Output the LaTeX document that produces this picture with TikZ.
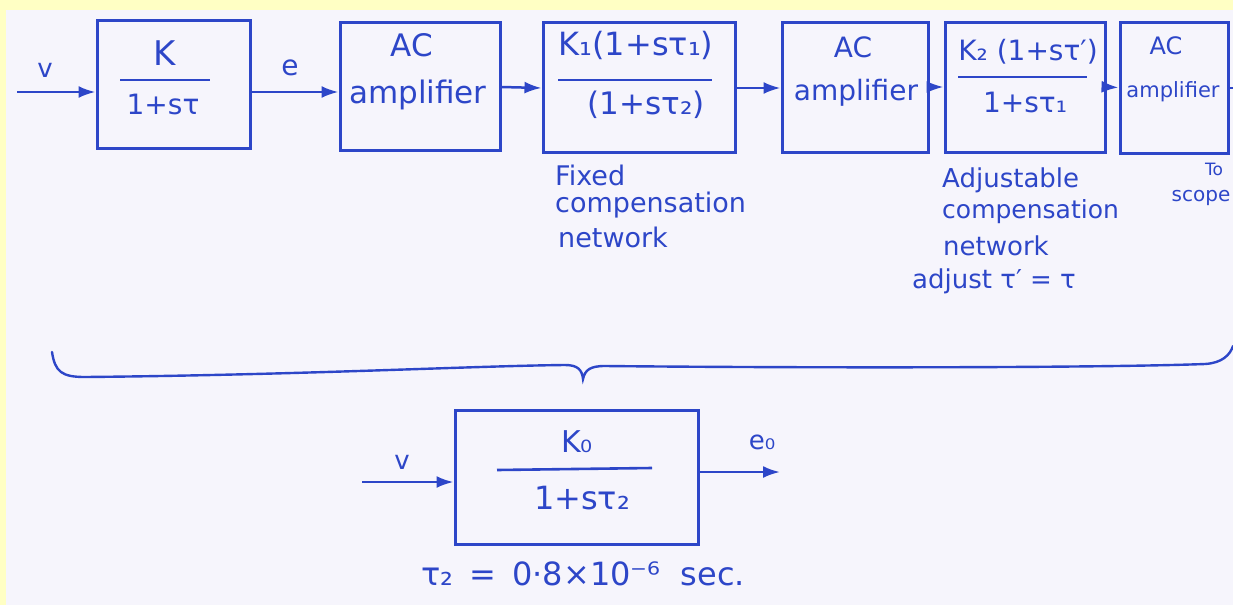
\documentclass[tikz,border=0pt]{standalone}
\usepackage{fontspec}
\setmainfont{DejaVu Sans}
\usetikzlibrary{arrows.meta}
\definecolor{ink}{RGB}{45,70,200}
\definecolor{paper}{RGB}{246,245,252}
\definecolor{edgey}{RGB}{255,255,196}
\newcommand{\fs}[1]{\fontsize{#1}{#1}\selectfont}
\begin{document}
\begin{tikzpicture}[x=1pt,y=-1pt,
  blk/.style={draw=ink,line width=3pt,rectangle,inner sep=0pt},
  lbl/.style={text=ink,inner sep=0pt},
  note/.style={text=ink,inner sep=0pt,anchor=west,font=\fs{26}},
  rulel/.style={draw=ink,line width=2.6pt},
  arr/.style={draw=ink,line width=2.5pt,-{Latex[length=17pt,width=12pt]}}]
\fill[edgey] (0,0) rectangle (1233,605);
\fill[paper] (6,10) rectangle (1233,605);
\useasboundingbox (0,0) rectangle (1233,605);

% top row boxes
\node[blk,minimum width=153pt,minimum height=128pt] (b1) at (173.5,84) {};
\node[blk,minimum width=160pt,minimum height=128pt] (b2) at (420,86) {};
\node[blk,minimum width=192pt,minimum height=130pt] (b3) at (639,87) {};
\node[blk,minimum width=146pt,minimum height=130pt] (b4) at (855,87) {};
\node[blk,minimum width=160pt,minimum height=130pt] (b5) at (1025,87) {};
\node[blk,minimum width=108pt,minimum height=131pt] (b6) at (1174,87.5) {};

% box 1
\node[lbl,font=\fs{34}] (k1) at (165,53) {K};
\coordinate (r1a) at (120,80); \coordinate (r1b) at (210,80);
\draw[rulel] (r1a) -- (r1b);
\node[lbl,font=\fs{28}] (d1) at (163,104) {1+sτ};
% box 2
\node[lbl,font=\fs{31}] (ac2) at (412,45) {AC};
\node[lbl,font=\fs{31}] (am2) at (418,95) {amplifier};
% box 3
\node[lbl,font=\fs{32}] (n3) at (636,45) {K₁(1+sτ₁)};
\coordinate (r3a) at (558,80); \coordinate (r3b) at (712,80);
\draw[rulel] (r3a) -- (r3b);
\node[lbl,font=\fs{31}] (d3) at (646,105) {(1+sτ₂)};
% box 4
\node[lbl,font=\fs{28}] (ac4) at (853,47) {AC};
\node[lbl,font=\fs{28}] (am4) at (856,93) {amplifier};
% box 5
\node[lbl,font=\fs{28}] (n5) at (1028,52) {K₂ (1+sτ′)};
\coordinate (r5a) at (958,77); \coordinate (r5b) at (1087,77);
\draw[rulel] (r5a) -- (r5b);
\node[lbl,font=\fs{28}] (d5) at (1025,102) {1+sτ₁};
% box 6
\node[lbl,font=\fs{24}] (ac6) at (1166,46) {AC};
\node[lbl,font=\fs{21}] (am6) at (1173,92) {amplifier};

% signals
\coordinate (vin) at (17,92);
\draw[arr] (vin) -- (vin -| b1.west);
\node[lbl,font=\fs{26}] (v1) at (45,70) {v};
\draw[arr] ([yshift=-8pt]b1.east) -- ([yshift=-6pt]b2.west);
\node[lbl,font=\fs{28}] (e1) at (290,68) {e};
\draw[arr] ([yshift=-1pt]b2.east) -- ([yshift=-1pt]b3.west);
\draw[arr] ([yshift=-1pt]b3.east) -- ([yshift=-1pt]b4.west);
\draw[arr] (b4.east) -- (b5.west);
\draw[arr] (b5.east) -- (b6.west);
\coordinate (out6) at (1233,88);
\draw[rulel] (b6.east |- out6) -- (out6);

% notes
\node[note,font=\fs{27}] (fix1) at (555,175) {Fixed};
\node[note,font=\fs{27}] (fix2) at (555,205) {compensation};
\node[note,font=\fs{27}] (fix3) at (558,237) {network};
\node[note] (adj1) at (942,180) {Adjustable};
\node[note,font=\fs{25}] (adj2) at (942,212) {compensation};
\node[note] (adj3) at (943,246) {network};
\node[note] (adj4) at (912,281) {adjust τ′ = τ};
\node[lbl,font=\fs{17}] (to) at (1214,169) {To};
\node[lbl,font=\fs{20}] (scope) at (1201,198) {scope};

% brace
\coordinate (brL) at (52,352);
\coordinate (brT) at (583,379);
\coordinate (brR) at (1233,346);
\draw[ink,line width=2.4pt,line cap=round]
  (brL) .. controls (55,372) and (62,377) .. (85,377)
  .. controls (300,375) and (470,366) .. (565,365)
  .. controls (578,365) and (582,370) .. (brT)
  .. controls (585,370) and (590,366) .. (605,366)
  .. controls (800,368) and (1100,368) .. (1205,364)
  .. controls (1222,363) and (1230,355) .. (brR);

% bottom block
\node[blk,minimum width=243pt,minimum height=134pt] (b7) at (576.5,477) {};
\node[lbl,font=\fs{30}] (k7) at (577,442) {K₀};
\coordinate (r7a) at (497,470); \coordinate (r7b) at (652,468);
\draw[rulel] (r7a) -- (r7b);
\node[lbl,font=\fs{32}] (d7) at (582,498) {1+sτ₂};
\coordinate (vin7) at (362,482);
\draw[arr] (vin7) -- (vin7 -| b7.west);
\node[lbl,font=\fs{26}] (v7) at (402,462) {v};
\coordinate (out7) at (780,472);
\draw[arr] (b7.east |- out7) -- (out7);
\node[lbl,font=\fs{26}] (e7) at (762,442) {e₀};
\node[lbl,font=\fs{32},anchor=west] (tau) at (421,574)
  {τ₂\hspace{6pt} = \hspace{6pt}0·8×10⁻⁶\hspace{10pt} sec.};
\end{tikzpicture}
\end{document}
